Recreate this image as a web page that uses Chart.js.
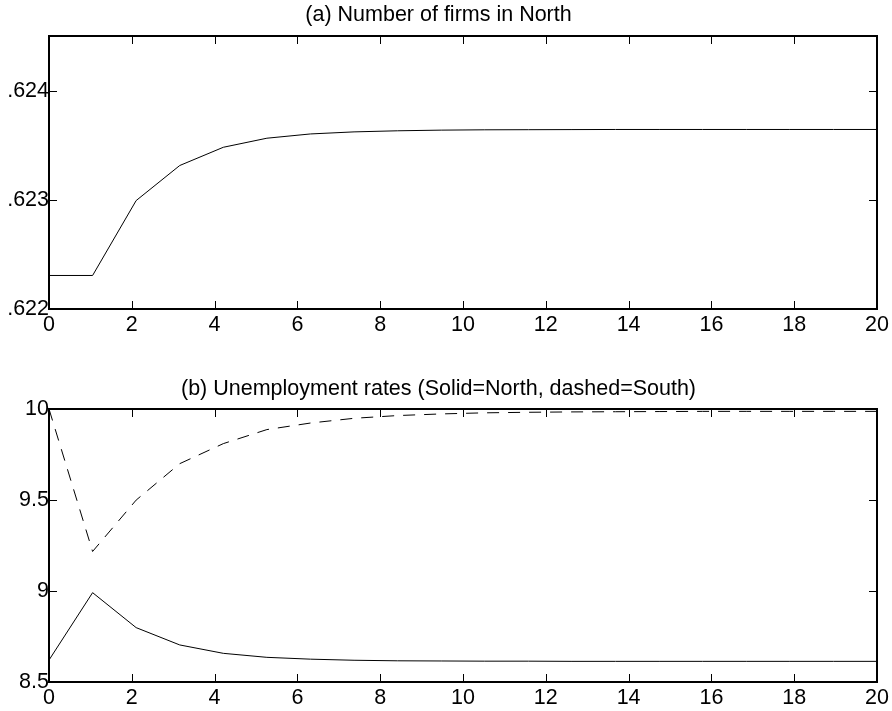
<!DOCTYPE html>
<html>
<head>
<meta charset="utf-8">
<script src="https://cdn.jsdelivr.net/npm/chart.js@4/dist/chart.umd.min.js"></script>
<style>
  html, body { margin: 0; padding: 0; background: #fff; }
  #wrap { position: relative; width: 892px; height: 711px; }
  .panel { position: absolute; left: 0; width: 892px; }
  #p1 { top: 0; height: 340px; }
  #p2 { top: 340px; height: 371px; }
</style>
</head>
<body>
<div id="wrap">
  <div class="panel" id="p1"><canvas id="c1" width="892" height="340"></canvas></div>
  <div class="panel" id="p2"><canvas id="c2" width="892" height="371"></canvas></div>
</div>
<script>
// ---- data ----
const periods = [0, 1.053, 2.105, 3.158, 4.211, 5.263, 6.316, 7.368, 8.421, 9.474,
                 10.526, 11.579, 12.632, 13.684, 14.737, 15.789, 16.842, 17.895, 18.947, 20];
const firmsNorth = [0.622307, 0.622307, 0.622993, 0.623314, 0.623481, 0.623564, 0.623603, 0.623622,
                    0.623632, 0.623638, 0.623641, 0.623642, 0.623643, 0.623644, 0.623644, 0.623644,
                    0.623644, 0.623644, 0.623644, 0.623644];
const unempNorth = [8.622, 8.992, 8.800, 8.705, 8.659, 8.637, 8.627, 8.621, 8.618, 8.617,
                    8.616, 8.616, 8.615, 8.615, 8.615, 8.615, 8.615, 8.615, 8.615, 8.615];
const unempSouth = [10.0, 9.218, 9.500, 9.700, 9.810, 9.887, 9.923, 9.949, 9.964, 9.973,
                    9.979, 9.982, 9.984, 9.985, 9.986, 9.987, 9.987, 9.987, 9.987, 9.987];
const xTicks = [0, 2, 4, 6, 8, 10, 12, 14, 16, 18, 20];
const xTickLabels = ['0', '2', '4', '6', '8', '10', '12', '14', '16', '18', '20'];
const topYTicks = [0.622, 0.623, 0.624];
const topYTickLabels = ['.622', '.623', '.624'];
const botYTicks = [8.5, 9, 9.5, 10];
const botYTickLabels = ['8.5', '9', '9.5', '10'];
const titleA = '(a) Number of firms in North';
const titleB = '(b) Unemployment rates (Solid=North, dashed=South)';

// ---- helpers ----
const FONT = "'Liberation Sans', Arial, Helvetica, sans-serif";
const FSIZE = 21.5;

const framePlugin = {
  id: 'frame',
  afterDatasetsDraw(chart) {
    const { ctx, chartArea: a, scales: { x, y } } = chart;
    const L = Math.round(a.left), R = Math.round(a.right);
    const T = Math.round(a.top), B = Math.round(a.bottom);
    const tl = 8;
    ctx.save();
    ctx.strokeStyle = '#000';
    // inward tick marks
    ctx.lineWidth = 1;
    ctx.beginPath();
    x.ticks.forEach(t => {
      const px = Math.round(x.getPixelForValue(t.value)) + 0.5;
      ctx.moveTo(px, B); ctx.lineTo(px, B - tl);
      ctx.moveTo(px, T); ctx.lineTo(px, T + tl);
    });
    y.ticks.forEach(t => {
      const py = Math.round(y.getPixelForValue(t.value)) + 0.5;
      ctx.moveTo(L, py); ctx.lineTo(L + tl, py);
      ctx.moveTo(R, py); ctx.lineTo(R - tl, py);
    });
    ctx.stroke();
    // box
    ctx.lineWidth = 2;
    ctx.beginPath();
    ctx.rect(L, T, R - L, B - T);
    ctx.stroke();
    ctx.restore();
  }
};

function makeOptions(title, titlePad, yMin, yMax, yTickVals, yTickLabs, xScaleH) {
  return {
    responsive: false,
    animation: false,
    layout: { padding: { left: 0, right: 15, top: 0, bottom: 0 } },
    plugins: {
      legend: { display: false },
      tooltip: { enabled: false },
      title: {
        display: true,
        text: title,
        color: '#000',
        font: { family: FONT, size: FSIZE, weight: 'normal', lineHeight: 1.2 },
        padding: titlePad
      }
    },
    scales: {
      x: {
        type: 'linear',
        min: 0, max: 20,
        grid: { display: false, drawTicks: false },
        border: { display: false },
        afterBuildTicks: s => { s.ticks = xTicks.map(v => ({ value: v })); },
        ticks: {
          color: '#000',
          padding: 3,
          maxRotation: 0,
          autoSkip: false,
          font: { family: FONT, size: FSIZE },
          callback: (v) => { const i = xTicks.indexOf(v); return i >= 0 ? xTickLabels[i] : ''; }
        },
        afterFit: s => { s.height = xScaleH; s.paddingLeft = 0; s.paddingRight = 0; s.paddingTop = 0; s.paddingBottom = 0; }
      },
      y: {
        type: 'linear',
        min: yMin, max: yMax,
        grid: { display: false, drawTicks: false },
        border: { display: false },
        afterBuildTicks: s => { s.ticks = yTickVals.map(v => ({ value: v })); },
        ticks: {
          color: '#000',
          padding: 0,
          autoSkip: false,
          font: { family: FONT, size: FSIZE },
          callback: (v) => { const i = yTickVals.indexOf(v); return i >= 0 ? yTickLabs[i] : ''; }
        },
        afterFit: s => { s.width = 49; s.paddingLeft = 0; s.paddingRight = 0; s.paddingTop = 0; s.paddingBottom = 0; }
      }
    }
  };
}

function series(xs, ys) { return xs.map((x, i) => ({ x: x, y: ys[i] })); }

new Chart(document.getElementById('c1'), {
  type: 'line',
  data: {
    datasets: [{
      data: series(periods, firmsNorth),
      borderColor: '#000', borderWidth: 1, pointRadius: 0, tension: 0, fill: false
    }]
  },
  options: makeOptions(titleA, { top: 2, bottom: 8.2 }, 0.622, 0.6245, topYTicks, topYTickLabels, 31),
  plugins: [framePlugin]
});

new Chart(document.getElementById('c2'), {
  type: 'line',
  data: {
    datasets: [
      {
        data: series(periods, unempNorth),
        borderColor: '#000', borderWidth: 1, pointRadius: 0, tension: 0, fill: false
      },
      {
        data: series(periods, unempSouth),
        borderColor: '#000', borderWidth: 1, borderDash: [12, 9], pointRadius: 0, tension: 0, fill: false
      }
    ]
  },
  options: makeOptions(titleB, { top: 36, bottom: 7.2 }, 8.5, 10, botYTicks, botYTickLabels, 28.7),
  plugins: [framePlugin]
});
</script>
</body>
</html>
